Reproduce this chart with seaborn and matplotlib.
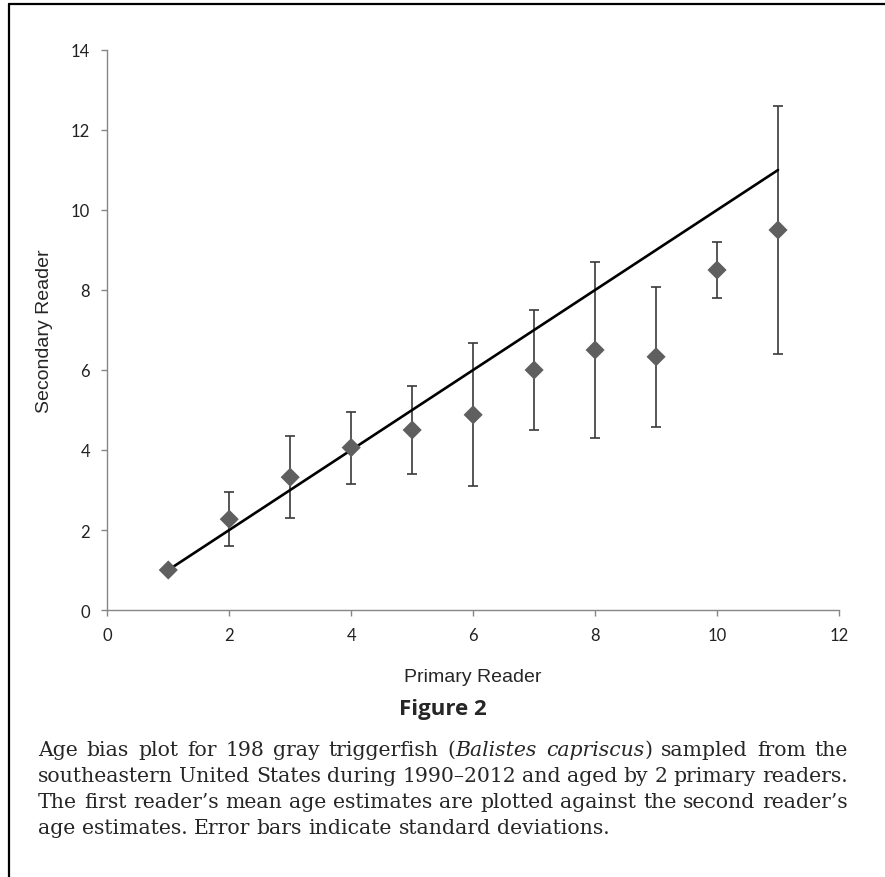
import matplotlib
matplotlib.use("Agg")
import matplotlib.pyplot as plt
import seaborn as sns

# ages read by the primary reader, mean age and sd from the second reader
primary_age = [1, 2, 3, 4, 5, 6, 7, 8, 9, 10, 11]
secondary_mean = [1.0, 2.27, 3.32, 4.06, 4.5, 4.88, 6.0, 6.5, 6.33, 8.5, 9.5]
secondary_sd = [0.0, 0.68, 1.02, 0.9, 1.1, 1.79, 1.51, 2.2, 1.75, 0.7, 3.1]

# 1:1 reference line
line_x = [1, 11]
line_y = [1, 11]

x_ticks = [0, 2, 4, 6, 8, 10, 12]
y_ticks = [0, 2, 4, 6, 8, 10, 12, 14]

x_label = "Primary Reader"
y_label = "Secondary Reader"
fig_title = "Figure 2"
# *...* marks italic
caption_lines = [
    "Age bias plot for 198 gray triggerfish (*Balistes* *capriscus*) sampled from the",
    "southeastern United States during 1990\u20132012 and aged by 2 primary readers.",
    "The first reader\u2019s mean age estimates are plotted against the second reader\u2019s",
    "age estimates. Error bars indicate standard deviations.",
]

W, H = 885, 878
sns.set_style("ticks")
fig = plt.figure(figsize=(W / 100, H / 100), dpi=100)
ax = fig.add_axes([107.3 / W, 1 - 611 / H, (839 - 107.3) / W, (611 - 51) / H])

axis_grey = "#868686"

# error bars (skip the first point, it has none)
ax.errorbar(primary_age[1:], secondary_mean[1:], yerr=secondary_sd[1:],
            fmt="none", ecolor="#3a3a3a", elinewidth=1.2, capsize=3.3,
            capthick=1.2, zorder=2)
sns.lineplot(x=line_x, y=line_y, color="black", linewidth=1.9, ax=ax, zorder=3)
sns.scatterplot(x=primary_age, y=secondary_mean, marker="D", s=95,
                color="#5f5f5f", edgecolor="none", ax=ax, zorder=4)

ax.set_xlim(0, 12)
ax.set_ylim(0, 14)
ax.set_xticks(x_ticks)
ax.set_yticks(y_ticks)
ax.set_xticklabels([str(t) for t in x_ticks], family="Lato", fontsize=12, color="#222222")
ax.set_yticklabels([str(t) for t in y_ticks], family="Lato", fontsize=12, color="#222222")
sns.despine(ax=ax)
for s in ["left", "bottom"]:
    ax.spines[s].set_color(axis_grey)
    ax.spines[s].set_linewidth(1.0)
ax.tick_params(direction="out", length=4.5, width=1.0, color=axis_grey, pad=8)

ax.set_xlabel(x_label, family="Liberation Sans", fontsize=14)
ax.set_ylabel(y_label, family="Liberation Sans", fontsize=14)
ax.xaxis.label.set_va("center")
ax.yaxis.label.set_va("center")
ax.xaxis.set_label_coords(0.5, (611 - 677) / 560)
ax.yaxis.set_label_coords((45 - 107.3) / 731.7, 0.5)

fig.text(0.5, 1 - 710 / H, fig_title, family="Open Sans", fontweight="bold",
         fontsize=16, ha="center", va="center")

# border on the top and left
fig.add_artist(plt.Line2D([9 / W, 9 / W], [0, 1 - 5 / H], color="black", lw=1.6,
                          transform=fig.transFigure))
fig.add_artist(plt.Line2D([9 / W, 1], [1 - 5 / H, 1 - 5 / H], color="black", lw=1.6,
                          transform=fig.transFigure))

# justified caption, placed word by word
renderer = fig.canvas.get_renderer()
cap_font = dict(family="DejaVu Serif", fontsize=12.0)
left_px, right_px = 38, 848
baselines = [756, 782, 808, 834]


def parse_words(line):
    words = []
    italic = False
    for w in line.split(" "):
        segs = []
        for i, part in enumerate(w.split("*")):
            if i > 0:
                italic = not italic
            if part:
                segs.append((part, italic))
        words.append(segs)
    return words


def seg_width(txt, italic):
    t = fig.text(0, 0, txt, style="italic" if italic else "normal", **cap_font)
    w = t.get_window_extent(renderer).width
    t.remove()
    return w


# scale the font so the widest justified line just fits with normal spaces
natural = []
for line in caption_lines[:-1]:
    words = parse_words(line)
    tot = sum(seg_width(t, it) for segs in words for t, it in segs)
    tot += (len(words) - 1) * (seg_width("a b", False) - seg_width("ab", False))
    natural.append(tot)
cap_font["fontsize"] *= (right_px - left_px) / max(natural) * 0.995

space_w = seg_width("a b", False) - seg_width("ab", False)
for n, line in enumerate(caption_lines):
    words = parse_words(line)
    widths = [[seg_width(t, it) for t, it in segs] for segs in words]
    totals = [sum(w) for w in widths]
    if n < len(caption_lines) - 1:
        gap = (right_px - left_px - sum(totals)) / (len(words) - 1)
    else:
        gap = space_w
    x = left_px
    for segs, ws, tot in zip(words, widths, totals):
        xs = x
        for (t, it), w in zip(segs, ws):
            fig.text(xs / W, 1 - baselines[n] / H, t, style="italic" if it else "normal",
                     ha="left", va="baseline", **cap_font)
            xs += w
        x += tot + gap

fig.savefig("out.png", dpi=100)
